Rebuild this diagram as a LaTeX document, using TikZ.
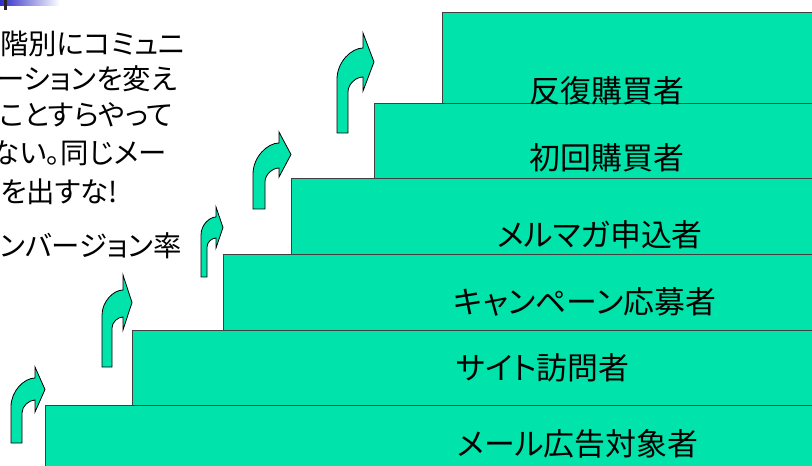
\documentclass[tikz,border=0pt]{standalone}
\usepackage{fontspec}
\newfontfamily\jp[RawFeature=+palt]{Noto Sans CJK JP}
\definecolor{mint}{HTML}{00E3AA}
\definecolor{barblue}{HTML}{2E2EC8}
\tikzset{
  stepbox/.style={fill=mint, draw=black!75, line width=0.9bp},
  steplabel/.style={font=\jp\fontsize{31}{32}\selectfont, inner sep=0pt, anchor=center},
  lefttext/.style={font=\jp\fontsize{28.5}{30}\selectfont, inner sep=0pt, anchor=east},
  arr/.style={fill=mint, draw=black, line width=0.8bp, line join=miter}
}
% xl, xr, yb, xh, yt, xt, yhb, yo, yi
\newcommand\myuparrow[9]{%
  \pgfmathsetmacro\ym{(#5+#7)/2}%
  \pgfmathsetmacro\rxo{#4-#1}%
  \pgfmathsetmacro\ryo{1.2*\rxo}%
  \pgfmathsetmacro\rxi{#4-#2}%
  \pgfmathsetmacro\ryi{\rxi}%
  \filldraw[arr] (#1,#3) -- ({#1},{#8+\ryo})
    .. controls ({#1},{#8+0.45*\ryo}) and ({#4-0.45*\rxo},{#8}) .. (#4,#8)
    -- (#4,#5) -- (#6,\ym) -- (#4,#7) -- (#4,#9)
    .. controls ({#4-0.45*\rxi},{#9}) and ({#2},{#9+0.45*\ryi}) .. ({#2},{#9+\ryi})
    -- (#2,#3) -- cycle;}
\begin{document}
\begin{tikzpicture}[x=1bp,y=-1bp]
\useasboundingbox (0,0) rectangle (812,466);
\fill[white] (0,0) rectangle (812,466);
% top-left decoration
\shade[left color=barblue, right color=white] (0,0) rectangle (60,6);
\fill[black!85] (4,0) rectangle (7.3,10.5);
% left text
\node[lefttext] (t1) at (185,44) {階別にコミュニ};
\node[lefttext] (t2) at (177,79) {ーションを変え};
\node[lefttext] (t3) at (173,115) {ことすらやって};
\node[lefttext] (t4) at (167,153) {ない。同じメー};
\node[lefttext] (t5) at (118,192) {を出すな!};
\node[lefttext] (t6) at (182,246) {ンバージョン率};
% steps
\path[stepbox] (442,12) rectangle (830,480);
\path[stepbox] (374,103) rectangle (830,480);
\path[stepbox] (291,178) rectangle (830,480);
\path[stepbox] (223,254) rectangle (830,480);
\path[stepbox] (132,330) rectangle (830,480);
\path[stepbox] (45,405) rectangle (830,480);
% labels
\node[steplabel] (s6) at (607,91) {反復購買者};
\node[steplabel] (s5) at (607,158) {初回購買者};
\node[steplabel] (s4) at (600,235) {メルマガ申込者};
\node[steplabel] (s3) at (585,302) {キャンペーン応募者};
\node[steplabel] (s2) at (543,368) {サイト訪問者};
\node[steplabel] (s1) at (578,444) {メール広告対象者};
% arrows
\myuparrow{11}{22}{443}{35}{367}{45}{412}{378}{400}
\myuparrow{102}{112}{367}{123}{275}{132}{330}{290}{317}
\myuparrow{201}{207}{277}{216}{207}{223}{248}{217}{238}
\myuparrow{253}{265}{209}{279}{132}{291}{177}{143}{168}
\myuparrow{337}{348}{133}{363}{33}{374}{91}{48}{77}
\end{tikzpicture}
\end{document}
